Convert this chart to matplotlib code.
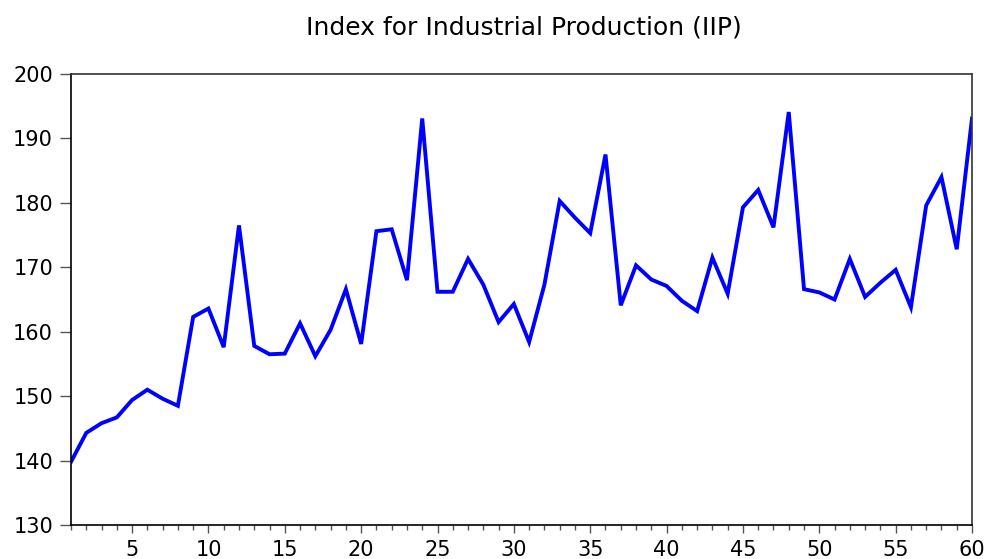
import matplotlib
matplotlib.use("Agg")
import matplotlib.pyplot as plt
from matplotlib.ticker import MultipleLocator, FixedLocator

periods = list(range(1, 61))
iip = [139.8, 144.3, 145.8, 146.7, 149.4, 151.0, 149.6, 148.5, 162.3, 163.6,
       157.6, 176.5, 157.8, 156.5, 156.6, 161.3, 156.2, 160.3, 166.6, 158.1,
       175.6, 175.9, 168.0, 193.1, 166.2, 166.2, 171.3, 167.3, 161.5, 164.3,
       158.4, 167.3, 180.3, 177.7, 175.3, 187.5, 164.1, 170.3, 168.1, 167.1,
       164.8, 163.2, 171.5, 165.9, 179.3, 182.0, 176.2, 194.1, 166.6, 166.1,
       165.0, 171.3, 165.4, 167.6, 169.6, 163.8, 179.6, 184.0, 172.8, 193.1]
title = "Index for Industrial Production (IIP)"
yticks = [130, 140, 150, 160, 170, 180, 190, 200]
xticks = [5, 10, 15, 20, 25, 30, 35, 40, 45, 50, 55, 60]

plt.rcParams['font.family'] = ['DejaVu Sans']
fig = plt.figure(figsize=(9.88, 5.59), dpi=100)
ax = fig.add_axes([71/988, 1-525/559, (972-71)/988, (525-74)/559])
ax.plot(periods, iip, color='#0000ff', lw=2.8, solid_joinstyle='miter')
ax.set_xlim(1, 60)
ax.set_ylim(130, 200)
ax.set_yticks(yticks)
ax.xaxis.set_major_locator(FixedLocator(xticks))
ax.xaxis.set_minor_locator(MultipleLocator(1))
ax.tick_params(axis='y', direction='out', length=8, width=1, color='#555555', labelsize=15, pad=5)
ax.tick_params(axis='x', which='major', direction='out', length=5.8, width=1, color='#555555', labelsize=15, pad=5)
ax.tick_params(axis='x', which='minor', direction='out', length=3.6, width=1, color='#555555')
for s in ['left', 'bottom']:
    ax.spines[s].set_color('black')
    ax.spines[s].set_linewidth(1.2)
for s in ['top', 'right']:
    ax.spines[s].set_color('#333333')
    ax.spines[s].set_linewidth(1.2)
fig.text(524/988, 1-27/559, title, ha='center', va='center', fontsize=18)
fig.savefig("out.png", dpi=100)
